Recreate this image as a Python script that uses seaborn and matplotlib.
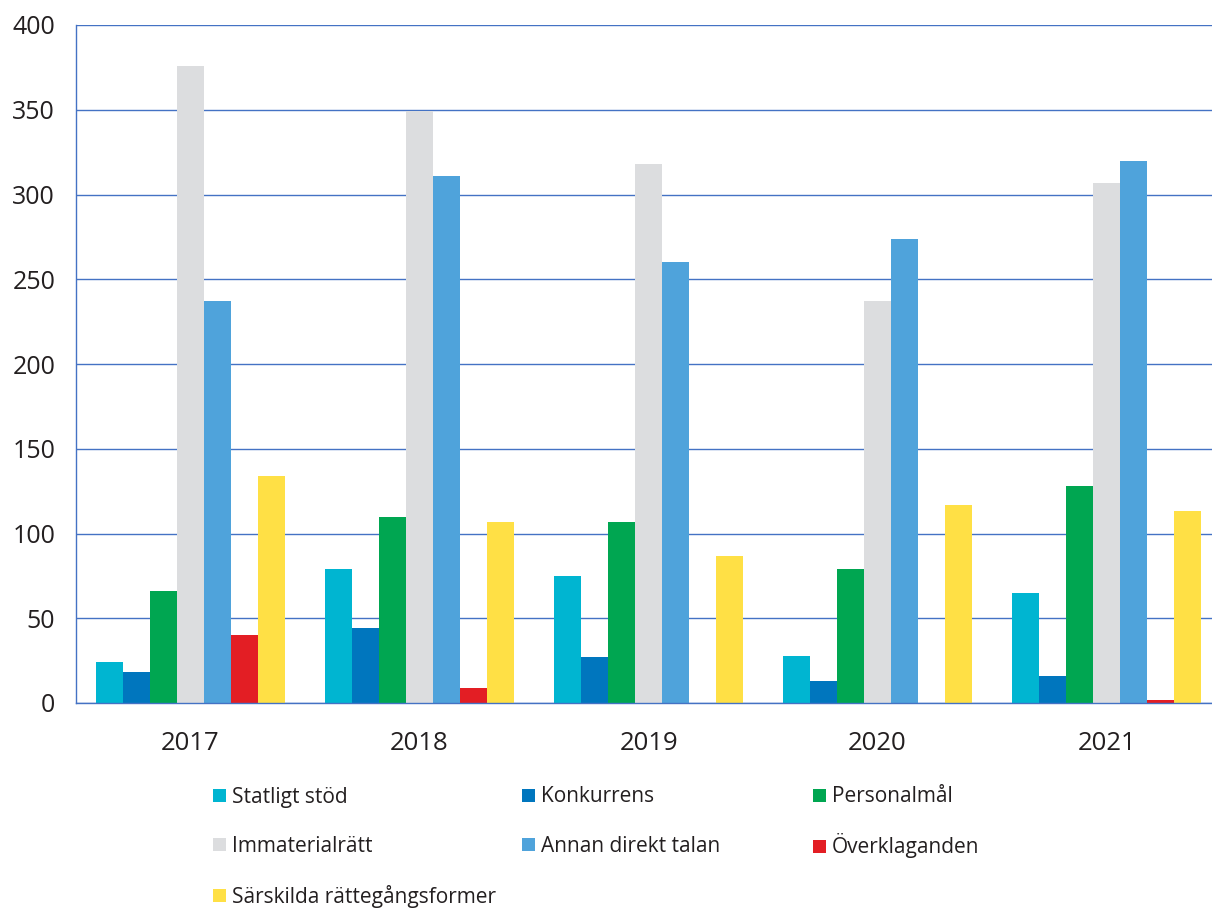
import numpy as np
import pandas as pd
import matplotlib
matplotlib.use("Agg")
import matplotlib.pyplot as plt
import seaborn as sns

# data
years = ["2017", "2018", "2019", "2020", "2021"]
categories = ["Statligt stöd", "Konkurrens", "Personalmål", "Immaterialrätt",
              "Annan direkt talan", "Överklaganden", "Särskilda rättegångsformer"]
statligt_stod = [24, 79, 75, 28, 65]
konkurrens = [18, 44, 27, 13, 16]
personalmal = [66, 110, 107, 79, 128]
immaterialratt = [376, 349, 318, 237, 307]
annan_direkt_talan = [237, 311, 260, 274, 320]
overklaganden = [40, 9, 0, 0, 2]
sarskilda = [134, 107, 87, 117, 113]

series = [statligt_stod, konkurrens, personalmal, immaterialratt,
          annan_direkt_talan, overklaganden, sarskilda]
colors = ["#00B5D1", "#0076BE", "#00A651", "#DCDDDF", "#4FA3DB", "#E31E24", "#FFE045"]

df = pd.DataFrame({
    "year": np.repeat([years], len(categories), axis=0).ravel(),
    "category": np.repeat(categories, len(years)),
    "value": np.concatenate(series),
})

sns.set_style("white")
plt.rcParams["font.family"] = ["Open Sans", "DejaVu Sans"]

grid_blue = "#4472C4"
text_col = "#231F20"

fig = plt.figure(figsize=(12.12, 9.09), dpi=100)
ax = fig.add_axes([76 / 1212, 1 - 703 / 909, 1 - 76 / 1212, (703 - 25) / 909])

sns.barplot(data=df, x="year", y="value", hue="category", order=years,
            hue_order=categories, palette=colors, width=0.825, gap=0,
            linewidth=0, saturation=1, ax=ax)

ax.set_ylim(0, 400)
ax.set_xlim(-0.5, 4.46)
ax.set_yticks(np.arange(0, 401, 50))
ax.set_xlabel("")
ax.set_ylabel("")

# grid and spines
ax.yaxis.grid(True, color=grid_blue, linewidth=1)
ax.set_axisbelow(True)
for side in ["top", "right"]:
    ax.spines[side].set_visible(False)
for side in ["left", "bottom"]:
    ax.spines[side].set_color(grid_blue)
    ax.spines[side].set_linewidth(1)

ax.tick_params(axis="y", length=8, width=1, color=grid_blue, labelsize=18,
               labelcolor=text_col, pad=7)
ax.tick_params(axis="x", which="major", length=0, labelsize=18.5,
               labelcolor=text_col, pad=20)
ax.set_xticks(np.arange(-0.5, 4.0, 1.0), minor=True)
ax.tick_params(axis="x", which="minor", length=10, width=1, color=grid_blue)

# legend: one entry per cell of a 3-column grid below the plot
handles, labels = ax.get_legend_handles_labels()
ax.get_legend().remove()
col_x = [213, 522, 813]
row_y = [797, 846, 896]
for i, (h, lab) in enumerate(zip(handles, labels)):
    r, c = divmod(i, 3)
    fig.legend([h], [lab], loc="center left",
               bbox_to_anchor=(col_x[c] / 1212, 1 - row_y[r] / 909),
               frameon=False, fontsize=15, handlelength=0.6, handleheight=0.6,
               handletextpad=0.3, borderaxespad=0, borderpad=0,
               labelcolor=text_col)

fig.savefig("out.png", dpi=100)
